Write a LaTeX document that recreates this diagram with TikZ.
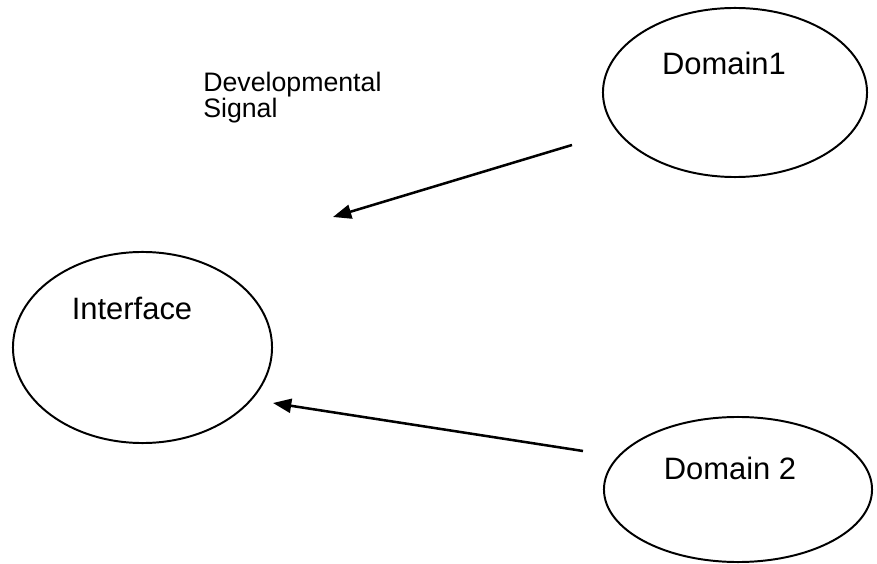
\documentclass[tikz,border=0pt]{standalone}
\usepackage{fontspec}
\setmainfont{Liberation Sans}
\usetikzlibrary{positioning, arrows.meta, shapes.geometric}

\begin{document}
\begin{tikzpicture}[x=0.025cm, y=-0.025cm]

	% Define styles
	\tikzset{
		region/.style={
			ellipse, draw, line width=1.4pt, inner sep=0pt
		},
		regionlabel/.style={
			inner sep=0pt, anchor=base, font=\fontsize{22}{26}\selectfont
		},
		signal/.style={
			inner sep=0pt, align=left, anchor=base west,
			font=\fontsize{19}{18.6}\selectfont
		},
		arrow/.style={line width=1.8pt, -{Triangle[length=13pt, width=10pt]}}
	}

	\useasboundingbox (0,0) rectangle (877,564);

	% The three regions
	\node (iface) [region, minimum width=6.475cm, minimum height=4.775cm] at (142.5,347.5) {};
	\node (dom1)  [region, minimum width=6.6cm,   minimum height=4.225cm] at (735,92.5) {};
	\node (dom2)  [region, minimum width=6.7cm,   minimum height=3.625cm] at (738,489.5) {};

	% Labels (set above the centre of each ellipse)
	\node (ifacetxt) [regionlabel] at (132,320) {Interface};
	\node (dom1txt)  [regionlabel] at (724,75)  {Domain1};
	\node (dom2txt)  [regionlabel] at (730,480) {Domain 2};

	\node (sig) [signal] at (203,118) {Developmental\\Signal};

	% Signal arrows
	\coordinate (from1) at (572,145);
	\coordinate (to1)   at (333,217);
	\coordinate (from2) at (583,451);
	\coordinate (to2)   at (273,403);

	\draw[arrow] (from1) -- (to1);
	\draw[arrow] (from2) -- (to2);

\end{tikzpicture}
\end{document}
